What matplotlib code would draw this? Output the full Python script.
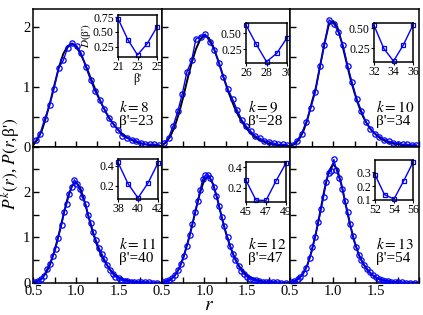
import matplotlib
matplotlib.use("Agg")
import matplotlib.pyplot as plt
from matplotlib.ticker import MultipleLocator

plt.rcParams['font.family'] = ['Liberation Serif', 'DejaVu Serif']
plt.rcParams['mathtext.fontset'] = 'stix'

# r grids (sampled points of the histograms and of the theory curves)
r_top = [0.53, 0.58, 0.635, 0.69, 0.74, 0.795, 0.85, 0.90, 0.955, 1.01, 1.06, 1.115, 1.17, 1.22,
         1.275, 1.33, 1.38, 1.435, 1.49, 1.54, 1.595, 1.65, 1.70, 1.755, 1.81, 1.86, 1.915, 1.97]
r_bot = [0.52, 0.55, 0.59, 0.62, 0.66, 0.69, 0.73, 0.76, 0.79, 0.83, 0.86, 0.89, 0.92, 0.95,
         0.98, 1.01, 1.04, 1.07, 1.11, 1.14, 1.17, 1.20, 1.23, 1.27, 1.30, 1.33, 1.36, 1.40,
         1.43, 1.46, 1.50, 1.53, 1.57, 1.60, 1.64, 1.68, 1.72, 1.76, 1.80, 1.85, 1.90, 1.95]
r_line = [0.50, 0.55, 0.60, 0.65, 0.70, 0.75, 0.80, 0.85, 0.90, 0.95, 1.00, 1.05, 1.10, 1.15,
          1.20, 1.25, 1.30, 1.35, 1.40, 1.45, 1.50, 1.55, 1.60, 1.65, 1.70, 1.75, 1.80, 1.85,
          1.90, 1.95, 2.00]

# blue symbols: P^k(r)
pk8 = [0.11, 0.22, 0.47, 0.69, 0.96, 1.31, 1.44, 1.65, 1.73, 1.68, 1.56, 1.33, 1.11, 0.93,
       0.78, 0.63, 0.48, 0.38, 0.28, 0.18, 0.14, 0.12, 0.10, 0.06, 0.04, 0.04, 0.04, 0.03]
pk9 = [0.06, 0.15, 0.35, 0.60, 0.88, 1.25, 1.44, 1.80, 1.84, 1.88, 1.75, 1.62, 1.40, 1.17,
       0.96, 0.79, 0.62, 0.45, 0.34, 0.26, 0.18, 0.14, 0.10, 0.08, 0.06, 0.04, 0.04, 0.03]
pk10 = [0.03, 0.10, 0.22, 0.42, 0.64, 0.92, 1.35, 1.70, 2.12, 2.05, 1.92, 1.70, 1.35, 1.08,
        0.80, 0.60, 0.42, 0.30, 0.22, 0.17, 0.12, 0.09, 0.07, 0.05, 0.04, 0.04, 0.03, 0.03]
pk11 = [0.02, 0.04, 0.09, 0.15, 0.30, 0.42, 0.59, 0.75, 0.99, 1.27, 1.56, 1.74, 1.96, 2.11,
        2.27, 2.18, 2.07, 1.89, 1.74, 1.50, 1.32, 1.12, 0.95, 0.76, 0.64, 0.52, 0.40, 0.27,
        0.19, 0.13, 0.10, 0.07, 0.04, 0.03, 0.02, 0.02, 0.01, 0.01, 0.01, 0.01, 0.0, 0.0]
pk12 = [0.01, 0.03, 0.06, 0.10, 0.17, 0.27, 0.42, 0.58, 0.80, 1.05, 1.30, 1.55, 1.80, 2.05,
        2.28, 2.37, 2.38, 2.30, 2.12, 1.92, 1.70, 1.46, 1.24, 1.00, 0.82, 0.64, 0.50, 0.36,
        0.26, 0.19, 0.13, 0.09, 0.06, 0.05, 0.03, 0.02, 0.02, 0.01, 0.01, 0.01, 0.0, 0.0]
pk13 = [0.02, 0.04, 0.08, 0.13, 0.22, 0.33, 0.55, 0.78, 1.00, 1.33, 1.62, 1.89, 2.22, 2.42,
        2.47, 2.72, 2.48, 2.32, 2.07, 1.80, 1.55, 1.30, 1.02, 0.79, 0.61, 0.49, 0.40, 0.30,
        0.23, 0.17, 0.12, 0.08, 0.05, 0.04, 0.03, 0.02, 0.01, 0.01, 0.01, 0.0, 0.0, 0.0]

# black curves: P(r, beta')
pb8 = [0.03, 0.12, 0.27, 0.50, 0.76, 1.05, 1.33, 1.55, 1.68, 1.72, 1.67, 1.56, 1.40, 1.22,
       1.04, 0.87, 0.71, 0.57, 0.45, 0.35, 0.27, 0.20, 0.15, 0.11, 0.08, 0.06, 0.04, 0.03,
       0.02, 0.015, 0.01]
pb9 = [0.02, 0.07, 0.17, 0.33, 0.55, 0.82, 1.12, 1.40, 1.63, 1.79, 1.86, 1.82, 1.68, 1.48,
       1.26, 1.04, 0.84, 0.66, 0.51, 0.39, 0.29, 0.21, 0.15, 0.11, 0.08, 0.05, 0.04, 0.03,
       0.02, 0.01, 0.01]
pb10 = [0.01, 0.04, 0.11, 0.24, 0.44, 0.72, 0.98, 1.35, 1.72, 2.03, 2.10, 2.00, 1.75, 1.45,
        1.15, 0.90, 0.68, 0.50, 0.37, 0.27, 0.20, 0.14, 0.10, 0.07, 0.05, 0.04, 0.03, 0.02,
        0.015, 0.01, 0.005]
pb11 = [0.01, 0.04, 0.09, 0.22, 0.42, 0.72, 1.08, 1.48, 1.86, 2.13, 2.22, 2.08, 1.78, 1.42,
        1.08, 0.80, 0.58, 0.42, 0.28, 0.18, 0.11, 0.07, 0.04, 0.03, 0.02, 0.01, 0.01, 0.005,
        0.0, 0.0, 0.0]
pb12 = [0.0, 0.02, 0.06, 0.15, 0.30, 0.54, 0.85, 1.22, 1.62, 2.00, 2.28, 2.35, 2.18, 1.85,
        1.46, 1.10, 0.80, 0.56, 0.38, 0.25, 0.16, 0.10, 0.06, 0.04, 0.02, 0.015, 0.01, 0.005,
        0.0, 0.0, 0.0]
pb13 = [0.01, 0.03, 0.09, 0.19, 0.38, 0.68, 1.08, 1.55, 2.05, 2.45, 2.62, 2.50, 2.15, 1.70,
        1.27, 0.90, 0.62, 0.42, 0.28, 0.18, 0.11, 0.07, 0.04, 0.03, 0.02, 0.01, 0.005, 0.0,
        0.0, 0.0, 0.0]

# insets: D(beta') vs beta'
b8 = [21, 22, 23, 24, 25]
d8 = [0.73, 0.37, 0.105, 0.30, 0.585]
b9 = [26, 27, 28, 29, 30]
d9 = [0.63, 0.33, 0.06, 0.19, 0.43]
b10 = [32, 33, 34, 35, 36]
d10 = [0.535, 0.25, 0.09, 0.29, 0.54]
b11 = [38, 39, 40, 41, 42]
d11 = [0.433, 0.22, 0.077, 0.227, 0.427]
b12 = [45, 46, 47, 48, 49]
d12 = [0.273, 0.083, 0.08, 0.267, 0.44]
b13 = [52, 53, 54, 55, 56]
d13 = [0.283, 0.137, 0.105, 0.235, 0.373]

ks = [8, 9, 10, 11, 12, 13]
betas = [23, 28, 34, 40, 47, 54]

W, H = 423.0, 315.0


def box(x0, y0, x1, y1):
    return [x0 / W, 1 - y1 / H, (x1 - x0) / W, (y1 - y0) / H]


fig = plt.figure(figsize=(4.23, 3.15), dpi=100)

cols = [(33.3, 161.7), (161.7, 290.0), (290.0, 419.0)]
rows = [(9.0, 146.7), (146.7, 282.7)]
ylims = [2.3, 3.0]

sym = [pk8, pk9, pk10, pk11, pk12, pk13]
theo = [pb8, pb9, pb10, pb11, pb12, pb13]
inset_x = [b8, b9, b10, b11, b12, b13]
inset_y = [d8, d9, d10, d11, d12, d13]
inset_box = [(118, 15, 157, 57), (246, 23, 287, 63), (374, 23, 413, 62),
             (118, 159, 158, 199), (246, 162, 286, 202), (375, 160, 413, 200)]
inset_ylim = [(0.07, 0.79), (0.04, 0.66), (0.08, 0.565),
              (0.067, 0.467), (0.065, 0.45), (0.098, 0.39)]
inset_yticks = [[0.25, 0.50, 0.75], [0.25, 0.50], [0.25, 0.50],
                [0.2, 0.4], [0.2, 0.4], [0.1, 0.2, 0.3]]
inset_yfmt = ['%.2f', '%.2f', '%.2f', '%.1f', '%.1f', '%.1f']

for i in range(6):
    row, col = i // 3, i % 3
    x0, x1 = cols[col]
    y0, y1 = rows[row]
    ax = fig.add_axes(box(x0, y0, x1, y1))
    rs = r_top if row == 0 else r_bot
    ax.plot(r_line, theo[i], color='black', lw=1.4, zorder=2)
    ax.plot(rs, sym[i], color='blue', lw=1.0, marker='o', ms=3.8, mfc='none',
            mec='blue', mew=0.9, zorder=3)
    ax.set_xlim(0.5, 2.0)
    ax.set_ylim(0, ylims[row])
    ax.set_xticks([0.5, 1.0, 1.5])
    ax.xaxis.set_minor_locator(MultipleLocator(0.25))
    ax.set_yticks([0, 1, 2])
    ax.yaxis.set_minor_locator(MultipleLocator(0.5))
    ax.tick_params(which='both', direction='in', length=4, width=1.0, labelsize=10.5, pad=2)
    if row == 0:
        ax.set_xticklabels([])
    if col > 0:
        ax.set_yticklabels([])
    for s in ax.spines.values():
        s.set_linewidth(1.1)
    ax.text(0.67, 0.285, '$k=%d$' % ks[i], transform=ax.transAxes, fontsize=11, va='center')
    ax.text(0.67, 0.18, "β'=%d" % betas[i], transform=ax.transAxes, fontsize=11, va='center')

    # inset
    ix0, iy0, ix1, iy1 = inset_box[i]
    ins = fig.add_axes(box(ix0, iy0, ix1, iy1))
    ins.plot(inset_x[i], inset_y[i], color='blue', lw=1.0, marker='s', ms=3.2,
             mfc='none', mec='blue', mew=0.9, clip_on=False)
    ins.set_xlim(inset_x[i][0], inset_x[i][-1])
    ins.set_ylim(*inset_ylim[i])
    ins.set_xticks(inset_x[i][::2])
    ins.set_yticks(inset_yticks[i])
    ins.set_yticklabels([inset_yfmt[i] % v for v in inset_yticks[i]])
    ins.tick_params(direction='out', length=2, width=0.8, labelsize=8.5, pad=1)
    for s in ins.spines.values():
        s.set_linewidth(1.1)
    if i == 0:
        ins.set_xlabel("β'", fontsize=8.5, labelpad=0)
        ins.set_ylabel("$D($β'$)$", fontsize=8, labelpad=0)

fig.text(0.025, 0.48, "$P^k(r)$, $P(r$,β'$)$", rotation=90, fontsize=12.5,
         ha='center', va='center')
fig.text(0.495, 0.03, '$r$', fontsize=14, ha='center', va='center')

fig.savefig('out.png', dpi=100)
